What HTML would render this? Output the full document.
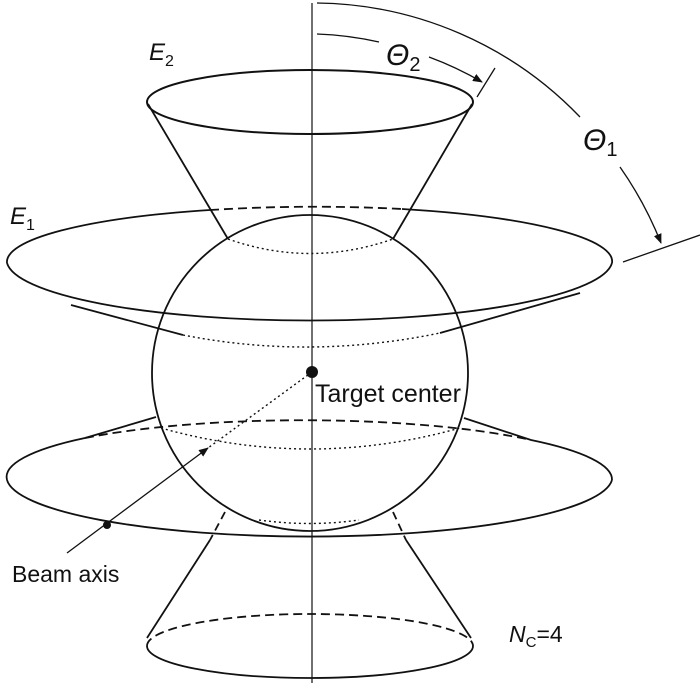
<!DOCTYPE html>
<html><head><meta charset="utf-8"><style>
html,body{margin:0;padding:0;background:#fff;}
svg{display:block;}
text{font-family:"Liberation Sans",sans-serif;fill:#111;}
</style></head><body>
<svg width="700" height="688" viewBox="0 0 700 688" xmlns="http://www.w3.org/2000/svg">
<defs>
<marker id="ar" markerWidth="10" markerHeight="8" refX="9" refY="4" orient="auto" markerUnits="userSpaceOnUse">
<path d="M0,0 L10,4 L0,8 z" fill="#111"/>
</marker>
</defs>
<g fill="none" stroke="#111" stroke-width="1.8">
<!-- vertical axis -->
<line x1="312" y1="3" x2="312" y2="683" stroke-width="1.2"/>
<!-- top cone E2 -->
<ellipse cx="310" cy="102" rx="163" ry="32" stroke-width="2"/>
<line x1="148" y1="104" x2="228" y2="239"/>
<line x1="472" y1="104" x2="393" y2="239"/>
<path d="M228,239 Q310,268 393,239" stroke-dasharray="2,3" stroke-width="1.4"/>
<!-- sphere -->
<circle cx="310" cy="373" r="158"/>
<!-- E1 ellipse -->
<path d="M7,263 A303,55 0 0 1 210,210" />
<path d="M402,209 A303,55 0 0 1 612,263" />
<path d="M210,210 Q306,204 402,209" stroke-dasharray="9,5"/>
<path d="M7,263 A303,61 0 0 0 612,263" />
<!-- E1 lower cone -->
<line x1="71" y1="305" x2="183" y2="335"/>
<line x1="580" y1="293" x2="440" y2="333"/>
<path d="M183,335 Q310,360 440,333" stroke-dasharray="2,3" stroke-width="1.4"/>
<!-- lower ellipse -->
<line x1="156" y1="417" x2="85" y2="438"/>
<line x1="464" y1="418" x2="531" y2="440"/>
<path d="M7,480 A303,58 0 0 1 85,438" />
<path d="M531,440 A303,58 0 0 1 612,480" />
<path d="M85,438 A303,58 0 0 1 531,440" stroke-dasharray="9,5"/>
<path d="M7,480 A303,60 0 0 0 612,480" />
<path d="M161,428 Q310,470 460,428" stroke-dasharray="2,3" stroke-width="1.4"/>
<path d="M259,520 Q310,527 359,520" stroke-dasharray="2,3" stroke-width="1.4"/>
<!-- bottom cone -->
<line x1="225" y1="512" x2="210" y2="540" stroke-dasharray="8,5"/>
<line x1="210" y1="540" x2="147" y2="638"/>
<line x1="393" y1="512" x2="406" y2="540" stroke-dasharray="8,5"/>
<line x1="406" y1="540" x2="471" y2="638"/>
<path d="M147,646 A163,32 0 0 1 473,646" stroke-dasharray="9,5"/>
<path d="M147,646 A163,32 0 0 0 473,646"/>
<!-- theta arcs -->
<path d="M317,3 A370,370 0 0 1 580,117" stroke-width="1.3"/>
<path d="M620,167 A370,370 0 0 1 661,243" stroke-width="1.3" marker-end="url(#ar)"/>
<line x1="623" y1="262" x2="700" y2="235" stroke-width="1.3"/>
<path d="M317,34 A337,337 0 0 1 379,42" stroke-width="1.3"/>
<path d="M429,57 A337,337 0 0 1 482,82" stroke-width="1.3" marker-end="url(#ar)"/>
<line x1="495" y1="68" x2="477" y2="97" stroke-width="1.3"/>
<!-- beam axis -->
<line x1="312" y1="372" x2="208" y2="448" stroke-dasharray="2,3" stroke-width="1.4"/>
<line x1="67" y1="553" x2="208" y2="448" stroke-width="1.3" marker-end="url(#ar)"/>
</g>
<circle cx="312" cy="372" r="6" fill="#111"/>
<circle cx="107" cy="525" r="4" fill="#111"/>
<text x="386" y="65" font-size="30" font-style="italic">Θ<tspan font-size="20" dy="6" font-style="normal">2</tspan></text>
<text x="583" y="150" font-size="30" font-style="italic">Θ<tspan font-size="20" dy="6" font-style="normal">1</tspan></text>
<text x="149" y="60" font-size="24" font-style="italic">E<tspan font-size="16" dy="6" font-style="normal">2</tspan></text>
<text x="10" y="224" font-size="24" font-style="italic">E<tspan font-size="16" dy="6" font-style="normal">1</tspan></text>
<text x="315" y="402" font-size="25">Target center</text>
<text x="12" y="582" font-size="23">Beam axis</text>
<text x="509" y="642" font-size="23"><tspan font-style="italic">N</tspan><tspan font-size="15" dy="5">C</tspan><tspan dy="-5">=4</tspan></text>
</svg>
</body></html>
